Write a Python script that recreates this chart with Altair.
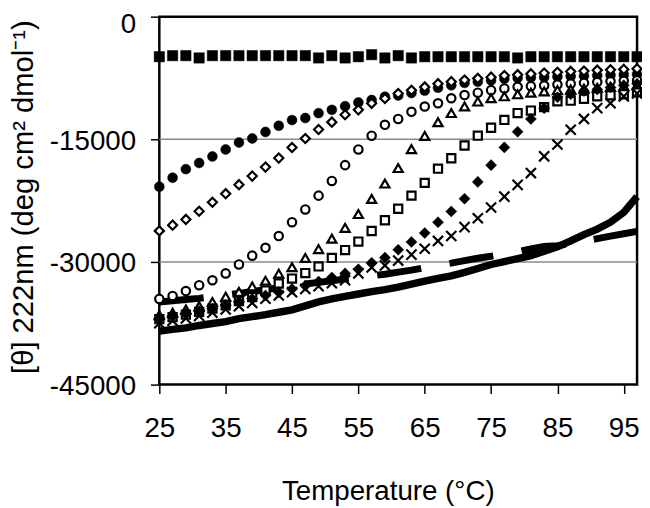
import altair as alt
import pandas as pd

# Temperature (degC)
temps = [25, 27, 29, 31, 33, 35, 37, 39, 41, 43, 45, 47, 49, 51, 53, 55, 57, 59, 61,
         63, 65, 67, 69, 71, 73, 75, 77, 79, 81, 83, 85, 87, 89, 91, 93, 95, 97]

filled_squares = [-4900, -4770, -4770, -5050, -4770, -4770, -4770, -4770, -4770, -4770,
                  -4770, -4770, -5050, -4770, -5050, -4900, -4650, -5050, -4770, -5050,
                  -4900, -4900, -4900, -4900, -4900, -4900, -4900, -5050, -4900, -4900,
                  -4900, -4900, -4900, -4900, -4900, -4900, -4900]

filled_circles = [-20800, -19700, -18650, -17900, -17100, -16250, -15400, -14900, -14100,
                  -13350, -12650, -12400, -11800, -11400, -10950, -10500, -10200, -9800,
                  -9650, -9350, -9050, -8700, -8400, -8100, -7950, -7800, -7600, -7500,
                  -7450, -7400, -7350, -7300, -7250, -7200, -7150, -7100, -7050]

open_diamonds = [-26200, -25500, -24800, -23800, -22700, -21650, -20550, -19500, -18400,
                 -17300, -16000, -14900, -13800, -12900, -12000, -11400, -10600, -10000,
                 -9400, -9000, -8600, -8200, -7950, -7750, -7550, -7400, -7200, -7100,
                 -7000, -6900, -6800, -6700, -6650, -6550, -6500, -6450, -6380]

open_circles = [-34520, -34160, -33560, -32840, -32240, -31400, -30310, -29230, -28270,
                -26830, -25140, -23580, -21890, -20090, -18160, -16240, -14560, -13230,
                -12510, -11630, -10990, -10590, -9980, -9590, -9300, -8990, -8780, -8580,
                -8500, -8420, -8300, -8200, -8100, -8000, -7900, -7850, -7800]

open_triangles = [-36500, -36200, -35800, -35400, -34900, -34250, -33650, -33000, -32300,
                  -31430, -30640, -29510, -28430, -27150, -25830, -24140, -22290, -20410,
                  -18520, -16200, -14590, -12910, -11790, -10980, -10380, -9980, -9740,
                  -9500, -9300, -9150, -9000, -8900, -8800, -8700, -8600, -8500, -8400]

open_squares = [-37000, -36750, -36450, -36100, -35700, -35300, -34800, -34300, -33500,
                -32640, -32030, -31360, -30550, -29510, -28550, -27510, -26220, -24900,
                -23490, -21890, -20330, -18590, -17320, -15760, -14560, -13590, -12630,
                -11790, -11490, -11070, -10350, -10280, -10040, -9740, -9620, -9500, -9260]

filled_diamonds = [-36900, -36600, -36300, -36000, -35700, -35300, -34900, -34500, -34100,
                   -33700, -33300, -32900, -32400, -31900, -31400, -30900, -30100, -29470,
                   -28510, -27550, -26460, -25140, -23820, -22260, -20210, -18160, -15990,
                   -14070, -12510, -11190, -9860, -9500, -9100, -8900, -8650, -8400, -8200]

crosses = [-37500, -37200, -36900, -36600, -36200, -35800, -35400, -35000, -34500,
           -34100, -33700, -33300, -32960, -32600, -32240, -31400, -30670, -30430,
           -29830, -29110, -28390, -27430, -26830, -25740, -24660, -23340, -22010,
           -20570, -19130, -17080, -15640, -13830, -12510, -11190, -10590, -9740, -9380]

solid_line = [-38460, -38250, -38070, -37770, -37530, -37290, -36930, -36690, -36450,
              -36150, -35850, -35370, -34880, -34520, -34220, -33920, -33620, -33380,
              -33080, -32720, -32360, -32000, -31700, -31280, -30800, -30310, -29950,
              -29590, -29230, -28690, -28150, -27430, -26650, -25980, -25140, -23940, -22010]

dashed_line = [-34900, -34750, -34600, -34450, -34250, -34050, -33850, -33600, -33400,
               -33150, -32950, -32700, -32500, -32300, -32100, -31900, -31700, -31500,
               -31250, -31000, -30700, -30400, -30150, -29850, -29550, -29300, -29000,
               -28750, -28400, -28100, -28000, -27750, -27450, -27150, -26850, -26550, -26250]

x_ticks = [25, 35, 45, 55, 65, 75, 85, 95]
y_ticks = [0, -15000, -30000, -45000]
grid_values = [-15000, -30000]

FONT = "Liberation Sans"

x_enc = alt.X(
    "T:Q",
    scale=alt.Scale(domain=[25, 97], nice=False, zero=False),
    axis=alt.Axis(
        values=x_ticks, title="Temperature (°C)", grid=False, domain=False,
        ticks=True, tickSize=9, tickWidth=1.5, tickColor="black",
        labelFont=FONT, labelFontSize=28, labelColor="black", labelPadding=21,
        labelFlush=False, labelOverlap=False,
        titleFont=FONT, titleFontSize=28, titleFontWeight="normal", titleColor="black",
        titleX=231, titleY=116, titleAlign="center", titleBaseline="alphabetic",
    ),
)
y_enc = alt.Y(
    "v:Q",
    scale=alt.Scale(domain=[-45000, 0], nice=False, zero=False),
    axis=alt.Axis(
        values=y_ticks, title="[θ] 222nm (deg cm² dmol⁻¹)", grid=False, domain=False,
        ticks=True, tickSize=9, tickWidth=1.5, tickColor="black",
        labelFont=FONT, labelFontSize=28, labelColor="black", labelPadding=15,
        labelExpr="'' + datum.value", labelFlush=False, labelOverlap=False,
        labelOffset={"condition": {"test": "datum.value == 0", "value": 8}, "value": 2},
        titleFont=FONT, titleFontSize=29.5, titleFontWeight="normal", titleColor="black",
        titleX=-128, titleY=182, titleAngle=-90, titleAlign="center",
        titleBaseline="alphabetic",
    ),
)


def frame(vals):
    return pd.DataFrame({"T": temps, "v": vals})


grid = alt.Chart(pd.DataFrame({"v": grid_values})).mark_rule(
    color="#8a8a8a", strokeWidth=1.5
).encode(y=y_enc)

solid = alt.Chart(frame(solid_line)).mark_line(
    color="black", strokeWidth=7.5
).encode(x=x_enc, y=y_enc)

dashed = alt.Chart(frame(dashed_line)).mark_line(
    color="black", strokeWidth=7, strokeDash=[45, 29], strokeCap="butt"
).encode(x=x_enc, y=y_enc)


def filled_pts(vals, shape, size):
    return alt.Chart(frame(vals)).mark_point(
        shape=shape, size=size, filled=True, fill="black", stroke="black",
        strokeWidth=0.5, opacity=1, fillOpacity=1
    ).encode(x=x_enc, y=y_enc)


def open_pts(vals, shape, size):
    return alt.Chart(frame(vals)).mark_point(
        shape=shape, size=size, filled=True, fill="white", stroke="black",
        strokeWidth=2.2, opacity=1, fillOpacity=1, strokeOpacity=1
    ).encode(x=x_enc, y=y_enc)


cross_layer = alt.Chart(frame(crosses)).mark_point(
    shape="M-1,-1L1,1M-1,1L1,-1", size=105, filled=False, stroke="black",
    strokeWidth=2.2, opacity=1
).encode(x=x_enc, y=y_enc)

chart = alt.layer(
    grid,
    solid,
    dashed,
    filled_pts(filled_squares, "square", 110),
    filled_pts(filled_circles, "circle", 100),
    open_pts(open_diamonds, "diamond", 85),
    open_pts(open_circles, "circle", 72),
    open_pts(open_triangles, "triangle-up", 85),
    open_pts(open_squares, "square", 68),
    filled_pts(filled_diamonds, "diamond", 125),
    cross_layer,
).properties(
    width=483,
    height=372,
    padding={"left": 153, "top": 6, "right": 5, "bottom": 120},
    autosize=alt.AutoSizeParams(type="none"),
).configure(
    background="white",
    view=alt.ViewConfig(stroke="black", strokeWidth=2.5),
)

chart.save("out.html", embed_options={"renderer": "svg", "actions": False})
